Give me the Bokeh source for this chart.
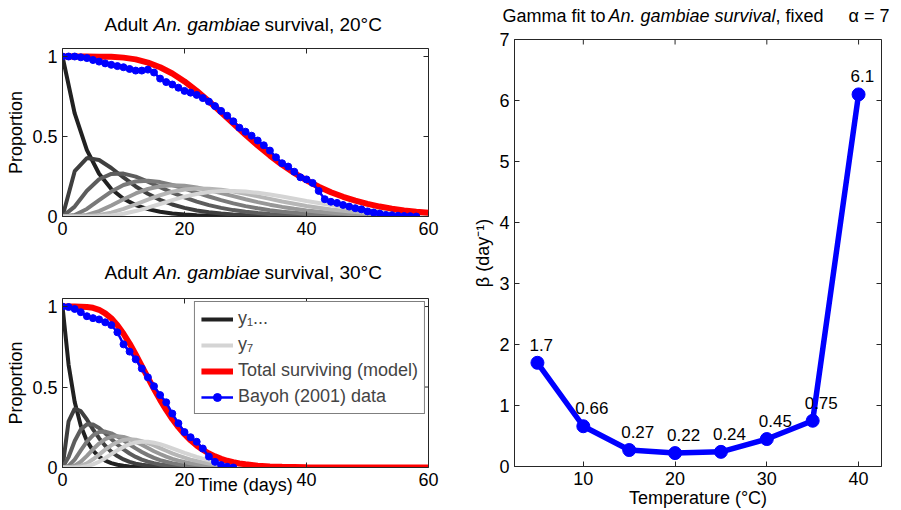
import math
from bokeh.plotting import figure
from bokeh.models import Range1d, FixedTicker, Legend, LegendItem
from bokeh.layouts import row, column
from bokeh.embed import file_html
from bokeh.resources import INLINE
from bokeh.core.properties import value

# ---------------- data ----------------
# 20 C model compartments (time in days)
t20_model = [0, 2, 4, 6, 8, 10, 12, 14, 16, 18, 20, 22, 24, 26, 28, 30,
             32, 34, 36, 38, 40, 42, 44, 46, 48, 50, 52, 54, 56, 58, 60]
y1_20 = [1.000, .644, .415, .267, .172, .111, .071, .046, .030, .019, .012, .008, .005, .003, .002, .001,
         .001, .001, 0, 0, 0, 0, 0, 0, 0, 0, 0, 0, 0, 0, 0]
y2_20 = [0, .283, .365, .353, .303, .244, .188, .142, .104, .075, .054, .038, .027, .019, .013, .009,
         .006, .004, .003, .002, .001, .001, .001, 0, 0, 0, 0, 0, 0, 0, 0]
y3_20 = [0, .062, .161, .233, .266, .268, .249, .218, .183, .149, .119, .093, .071, .054, .040, .030,
         .022, .016, .011, .008, .006, .004, .003, .002, .001, .001, .001, 0, 0, 0, 0]
y4_20 = [0, .009, .047, .102, .156, .197, .219, .224, .215, .197, .174, .149, .125, .102, .082, .065,
         .051, .039, .030, .023, .017, .013, .009, .007, .005, .004, .003, .002, .001, .001, .001]
y5_20 = [0, .001, .010, .034, .069, .108, .144, .172, .189, .195, .192, .181, .165, .146, .127, .108,
         .090, .074, .060, .048, .038, .029, .023, .018, .013, .010, .008, .006, .004, .003, .002]
y6_20 = [0, 0, .002, .009, .024, .048, .076, .106, .133, .155, .169, .175, .174, .167, .156, .142,
         .126, .110, .094, .080, .066, .055, .044, .036, .028, .022, .018, .014, .011, .008, .006]
y7_20 = [0, 0, 0, .002, .007, .017, .034, .055, .078, .102, .124, .141, .153, .160, .160, .156,
         .148, .137, .125, .111, .097, .084, .071, .060, .050, .041, .033, .027, .022, .017, .014]
total_20 = [1.000, 1.000, 1.000, .999, .998, .993, .982, .962, .933, .894, .844, .785, .720, .651, .581, .511,
            .444, .381, .323, .272, .226, .186, .152, .123, .099, .079, .062, .049, .038, .030, .023]

# 20 C Bayoh (2001) data
t20_data = list(range(0, 59))
v20_data = [1.000, 1.000, 1.000, .995, .990, .978, .968, .957, .948, .940,
            .933, .922, .912, .912, .918, .900, .862, .840, .825, .805,
            .785, .774, .760, .740, .718, .690, .660, .630, .595, .555,
            .530, .505, .475, .445, .412, .370, .333, .312, .280, .245,
            .232, .210, .160, .108, .092, .085, .072, .062, .052, .045,
            .032, .025, .018, .010, .008, .005, .003, .002, .000]

# 30 C model compartments
t30_model = [0, 1, 2, 3, 4, 5, 6, 7, 8, 9, 10, 11, 12, 13, 14, 15, 16, 17, 18, 19,
             20, 21, 22, 23, 24, 25, 26, 27, 28, 29, 30, 32, 34, 36, 40, 45, 50, 60]
y1_30 = [1.000, .638, .407, .259, .165, .105, .067, .043, .027, .017, .011, .007, .005, .003, .002, .001,
         .001, 0, 0, 0, 0, 0, 0, 0, 0, 0, 0, 0, 0, 0, 0, 0, 0, 0, 0, 0, 0, 0]
y2_30 = [0, .287, .366, .350, .298, .237, .182, .135, .098, .071, .050, .035, .024, .017, .012, .008,
         .005, .004, .002, .002, .001, .001, 0, 0, 0, 0, 0, 0, 0, 0, 0, 0, 0, 0, 0, 0, 0, 0]
y3_30 = [0, .065, .165, .236, .268, .267, .245, .213, .177, .143, .113, .087, .066, .049, .036, .027,
         .019, .014, .010, .007, .005, .004, .002, .002, .001, .001, .001, 0, 0, 0, 0, 0, 0, 0, 0, 0, 0, 0]
y4_30 = [0, .010, .049, .106, .161, .200, .221, .223, .212, .193, .169, .143, .119, .096, .077, .060,
         .046, .036, .027, .020, .015, .011, .008, .006, .004, .003, .002, .002, .001, .001, .001,
         0, 0, 0, 0, 0, 0, 0]
y5_30 = [0, .001, .011, .036, .072, .113, .149, .176, .191, .195, .190, .177, .160, .141, .121, .101,
         .084, .068, .054, .043, .034, .026, .020, .015, .012, .009, .006, .005, .004, .003, .002,
         .001, .001, 0, 0, 0, 0, 0]
y6_30 = [0, 0, .002, .010, .026, .051, .080, .111, .138, .158, .171, .175, .173, .164, .152, .137,
         .120, .104, .088, .074, .061, .049, .040, .032, .025, .020, .015, .012, .009, .007, .005,
         .003, .002, .001, 0, 0, 0, 0]
y7_30 = [0, 0, 0, .002, .008, .019, .036, .058, .083, .107, .128, .145, .156, .160, .160, .154,
         .145, .133, .119, .105, .091, .078, .066, .055, .045, .037, .030, .024, .019, .014, .012,
         .007, .004, .002, .001, 0, 0, 0]
total_30 = [1.000, 1.000, 1.000, .999, .997, .992, .980, .958, .927, .884, .831, .770, .702, .630, .558, .488,
            .420, .358, .301, .251, .207, .169, .137, .110, .087, .069, .054, .042, .033, .025, .020,
            .011, .006, .004, .001, 0, 0, 0]

# 30 C Bayoh (2001) data
t30_data = list(range(0, 29))
v30_data = [1.000, .997, .985, .965, .940, .928, .920, .902, .885, .840,
            .765, .720, .672, .615, .560, .505, .450, .405, .335, .275,
            .220, .188, .160, .118, .068, .035, .015, .005, .000]

# Gamma fit: beta versus temperature
temps = [5, 10, 15, 20, 25, 30, 35, 40]
beta = [1.7, 0.66, 0.27, 0.22, 0.24, 0.45, 0.75, 6.1]
beta_labels = ["1.7", "0.66", "0.27", "0.22", "0.24", "0.45", "0.75", "6.1"]

# ticks
time_ticks = [0, 20, 40, 60]
prop_ticks = [0, 0.5, 1]
temp_ticks = [10, 20, 30, 40]
beta_ticks = [0, 1, 2, 3, 4, 5, 6, 7]

# ---------------- style ----------------
FONT = "Liberation Sans"
FS = "18px"
AXC = "#262626"
GRAYS = ["#212121", "#3f3f3f", "#5d5d5d", "#7a7a7a", "#989898", "#b6b6b6", "#d4d4d4"]
RED = "#ff0000"
BLUE = "#0000ff"


def style_axis(ax, ticks):
    ax.ticker = FixedTicker(ticks=ticks)
    ax.major_tick_in = 5
    ax.major_tick_out = 0
    ax.minor_tick_line_color = None
    ax.axis_line_color = AXC
    ax.major_tick_line_color = AXC
    ax.major_label_text_font = FONT
    ax.major_label_text_font_size = FS
    ax.major_label_text_color = "black"
    ax.major_label_standoff = 5
    ax.axis_label_text_font = FONT
    ax.axis_label_text_font_size = FS
    ax.axis_label_text_font_style = "normal"
    ax.axis_label_text_color = "black"
    ax.axis_label_standoff = 3


def make_fig(w, h, xr, yr, bl, br, bt, bb, xticks, yticks):
    p = figure(width=w, height=h, x_range=Range1d(*xr), y_range=Range1d(*yr),
               output_backend="svg", toolbar_location=None,
               min_border_left=bl, min_border_right=br, min_border_top=bt, min_border_bottom=bb)
    p.xgrid.visible = False
    p.ygrid.visible = False
    p.outline_line_color = AXC
    p.outline_line_width = 1
    p.background_fill_color = "white"
    p.border_fill_color = "white"
    style_axis(p.below[0], xticks)
    style_axis(p.left[0], yticks)
    # mirrored inward ticks on the top and right edges (half of each dash is clipped by the frame)
    p.scatter(x=xticks, y=[yr[1]] * len(xticks), marker="dash", angle=math.pi / 2, size=10,
              line_color=AXC, line_width=1)
    p.scatter(x=[xr[1]] * len(yticks), y=yticks, marker="dash", size=10,
              line_color=AXC, line_width=1)
    return p


def title_strip(w, h, pieces, y_base, fsize):
    s = figure(width=w, height=h, x_range=Range1d(0, w), y_range=Range1d(0, h),
               output_backend="svg", toolbar_location=None, x_axis_type=None, y_axis_type=None,
               min_border_left=0, min_border_right=0, min_border_top=0, min_border_bottom=0,
               frame_align=False)
    s.outline_line_color = None
    s.xgrid.visible = False
    s.ygrid.visible = False
    s.background_fill_color = "white"
    s.border_fill_color = "white"
    for text, x, style in pieces:
        s.text(x=[x], y=[y_base], text=[text], text_font=value(FONT), text_font_size=fsize,
               text_font_style=style, text_color="black", text_align="left",
               text_baseline="alphabetic")
    return s


prop_labels = {0: "0", 0.5: "0.5", 1: "1"}


def survival_panel(h, bt, bb, t_model, ys, total, t_data, v_data):
    p = make_fig(440, h, (0, 60), (0, 1.05), 62, 12, bt, bb, time_ticks, prop_ticks)
    p.left[0].major_label_overrides = prop_labels
    p.left[0].axis_label = "Proportion"
    rs = []
    for k, yk in enumerate(ys):
        rs.append(p.line(t_model, yk, line_color=GRAYS[k], line_width=4))
    r_tot = p.line(t_model, total, line_color=RED, line_width=6)
    r_dl = p.line(t_data, v_data, line_color=BLUE, line_width=2.5)
    r_ds = p.scatter(t_data, v_data, marker="circle", size=7, fill_color=BLUE, line_color=BLUE)
    return p, rs, r_tot, r_dl, r_ds


def left_title(temp_text):
    return [("Adult", 104, "normal"), ("An. gambiae", 153, "italic"),
            ("survival, " + temp_text, 264, "normal")]


s1 = title_strip(440, 40, left_title("20°C"), 16, "19px")
p1, _, _, _, _ = survival_panel(212, 8, 36, t20_model,
                                [y1_20, y2_20, y3_20, y4_20, y5_20, y6_20, y7_20], total_20,
                                t20_data, v20_data)
s2 = title_strip(440, 40, left_title("30°C"), 20, "19px")
p2, rs2, rtot2, rdl2, rds2 = survival_panel(218, 6, 43, t30_model,
                                            [y1_30, y2_30, y3_30, y4_30, y5_30, y6_30, y7_30], total_30,
                                            t30_data, v30_data)
p2.below[0].axis_label = "Time (days)"
p2.below[0].axis_label_standoff = -14

legend = Legend(items=[LegendItem(label="y₁...", renderers=[rs2[0]]),
                       LegendItem(label="y₇", renderers=[rs2[6]]),
                       LegendItem(label="Total surviving (model)", renderers=[rtot2]),
                       LegendItem(label="Bayoh (2001) data", renderers=[rdl2, rds2])],
                location="top_right", label_text_font=FONT, label_text_font_size=FS,
                border_line_color="black", border_line_width=1, background_fill_color="white",
                background_fill_alpha=1, padding=6, spacing=5, margin=3,
                glyph_width=32, glyph_height=20, label_height=20, label_standoff=5)
p2.add_layout(legend)

# right panel
s3 = title_strip(461, 28, [("Gamma fit to", 62, "normal"), ("An. gambiae survival", 168, "italic"),
                           (", fixed", 335, "normal"), ("α = 7", 408, "normal")], 13, "18px")
p3 = make_fig(461, 482, (2.5, 42.5), (0, 7), 74, 20, 11, 44, temp_ticks, beta_ticks)
p3.below[0].axis_label = "Temperature (°C)"
p3.left[0].axis_label = "β (day⁻¹)"
p3.below[0].axis_label_standoff = 0
p3.below[0].major_label_standoff = 5
p3.line(temps, beta, line_color=BLUE, line_width=5.5)
p3.scatter(temps, beta, marker="circle", size=13, fill_color=BLUE, line_color=BLUE)
p3.text(x=temps, y=beta, text=beta_labels, x_offset=-8, y_offset=-18,
        text_font=value(FONT), text_font_size="17px", text_color="black",
        text_align="left", text_baseline="alphabetic")

layout = row(column(s1, p1, s2, p2), column(s3, p3))
open("out.html", "w").write(file_html(layout, INLINE))
